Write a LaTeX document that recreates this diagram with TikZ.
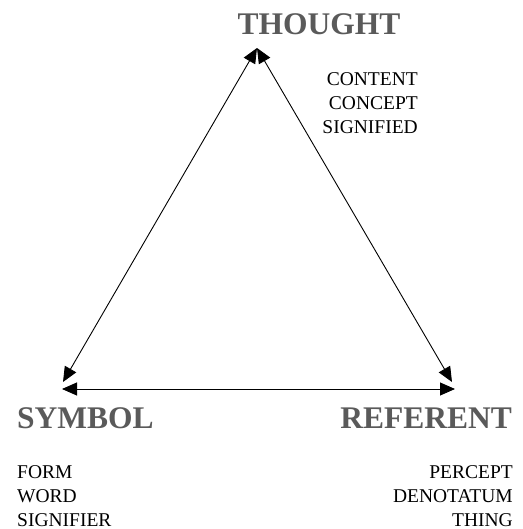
\documentclass[tikz,border=0pt]{standalone}
\usepackage{fontspec}
\setmainfont{Liberation Serif}
\usepackage{xcolor}
\usepackage{tikz}
\usetikzlibrary{arrows.meta,positioning}

\definecolor{titlegray}{HTML}{5A5A5A}

\begin{document}
\begin{tikzpicture}[x=1pt,y=-1pt,
  corner/.style={font=\fontsize{31.5}{31.5}\selectfont\bfseries,text=titlegray,inner sep=0pt},
  gloss/.style={font=\fontsize{19.5}{24}\selectfont,inner sep=0pt,align=#1},
  link/.style={line width=0.9pt,{Triangle[length=15pt,width=13pt]}-{Triangle[length=15pt,width=13pt]}}]
  \useasboundingbox (0,0) rectangle (522,529);
  % corners of the triangle
  \coordinate (apex) at (257,48);
  \coordinate (symA) at (62,389);
  \coordinate (symB) at (63,382);
  \coordinate (refA) at (455,389);
  \coordinate (refB) at (452,382);
  % labels
  \node[corner] (thought) at (319,24) {THOUGHT};
  \node[corner,anchor=west] (symbol) at (17,418) {SYMBOL};
  \node[corner,anchor=east] (referent) at (512,418) {REFERENT};
  \node[gloss=right,anchor=north east] (tgloss) at (418,72) {CONTENT\\CONCEPT\\SIGNIFIED};
  \node[gloss=left,anchor=north west] (sgloss) at (17,465) {FORM\\WORD\\SIGNIFIER};
  \node[gloss=right,anchor=north east] (rgloss) at (513,465) {PERCEPT\\DENOTATUM\\THING};
  % sides
  \draw[link] (symB) -- (apex);
  \draw[link] (apex) -- (refB);
  \draw[link] (symA) -- (refA);
\end{tikzpicture}
\end{document}
